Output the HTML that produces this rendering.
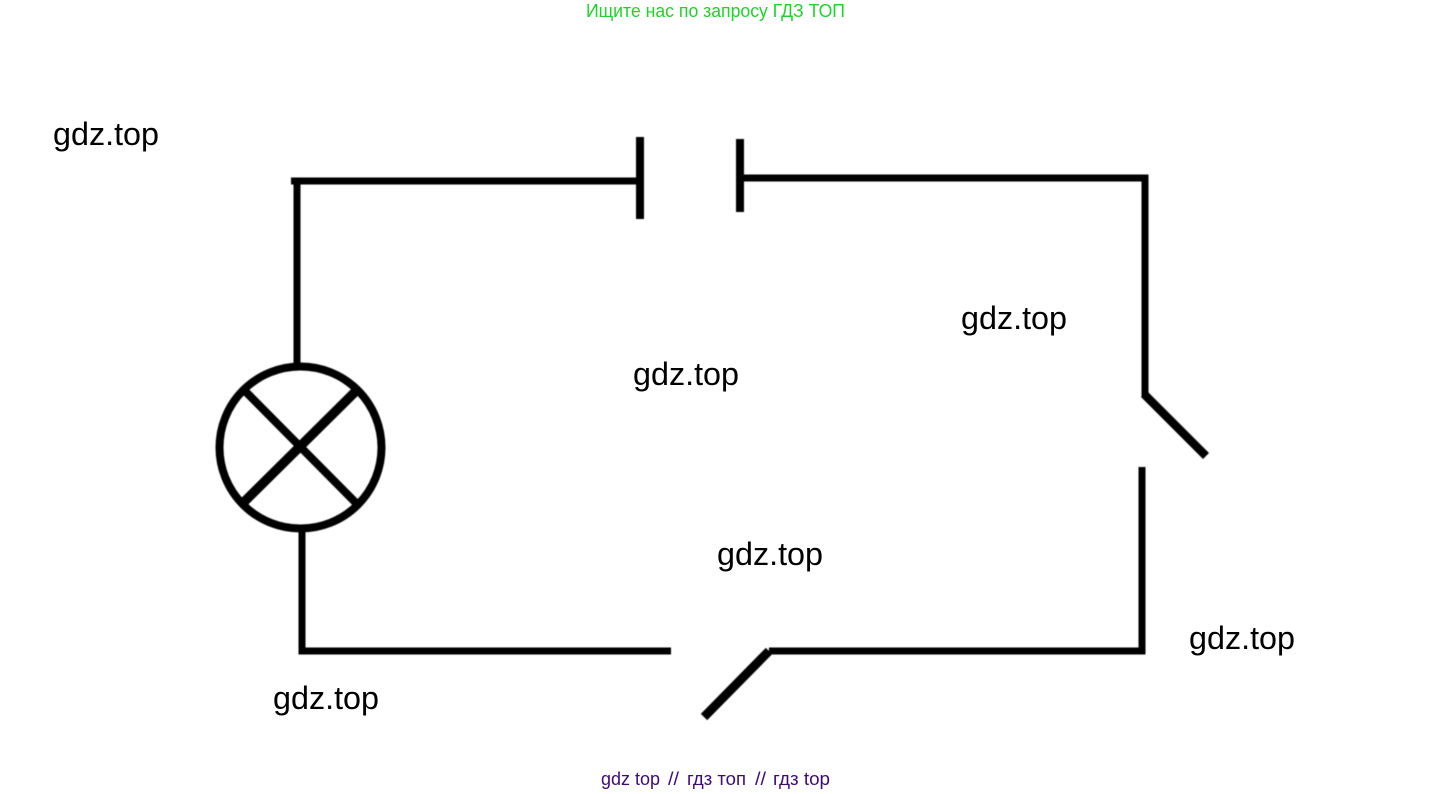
<!DOCTYPE html>
<html><head><meta charset="utf-8"><title>Circuit</title>
<style>html,body{margin:0;padding:0;background:#fff;width:1433px;height:794px;overflow:hidden}svg{display:block}
text{font-family:"Liberation Sans","DejaVu Sans",sans-serif}</style></head>
<body>
<svg width="1433" height="794" viewBox="0 0 1433 794" xmlns="http://www.w3.org/2000/svg">
<defs><filter id="b" x="-5%" y="-5%" width="110%" height="110%"><feGaussianBlur stdDeviation="0.45"/></filter></defs>
<g fill="none" stroke="#000" stroke-width="7" filter="url(#b)">
<path d="M291 181H640M297 181V365"/>
<path d="M640 137V219" stroke-width="8"/>
<path d="M740 139V212" stroke-width="8"/>
<path d="M740 178H1145V397"/>
<path d="M1144 394L1206 456" stroke-width="8.5"/>
<path d="M1142 467V651H769" stroke-width="7"/>
<path d="M769 651L704 717" stroke-width="9"/>
<path d="M671 651H302V530"/>
<circle cx="300.5" cy="447.5" r="81" stroke-width="8"/>
<path d="M245 391L357 504" stroke-width="8"/>
<path d="M357 390L245 501" stroke-width="9.5"/>
</g>
<g font-size="32" fill="#000">
<text x="53" y="145" textLength="106" lengthAdjust="spacingAndGlyphs">gdz.top</text>
<text x="633" y="385" textLength="106" lengthAdjust="spacingAndGlyphs">gdz.top</text>
<text x="961" y="329" textLength="106" lengthAdjust="spacingAndGlyphs">gdz.top</text>
<text x="717" y="565" textLength="106" lengthAdjust="spacingAndGlyphs">gdz.top</text>
<text x="1189" y="649" textLength="106" lengthAdjust="spacingAndGlyphs">gdz.top</text>
<text x="273" y="709" textLength="106" lengthAdjust="spacingAndGlyphs">gdz.top</text>
</g>
<text x="586" y="17" font-size="18" fill="#1ed42a" textLength="259" lengthAdjust="spacingAndGlyphs">Ищите нас по запросу ГДЗ ТОП</text>
<g font-size="18" fill="#3f0a78">
<text x="601" y="785" textLength="59" lengthAdjust="spacingAndGlyphs">gdz top</text>
<text x="668" y="785" textLength="11" lengthAdjust="spacingAndGlyphs">//</text>
<text x="687" y="785" textLength="59" lengthAdjust="spacingAndGlyphs">гдз топ</text>
<text x="755" y="785" textLength="11" lengthAdjust="spacingAndGlyphs">//</text>
<text x="773" y="785" textLength="57" lengthAdjust="spacingAndGlyphs">гдз top</text>
</g>
</svg>
</body></html>
